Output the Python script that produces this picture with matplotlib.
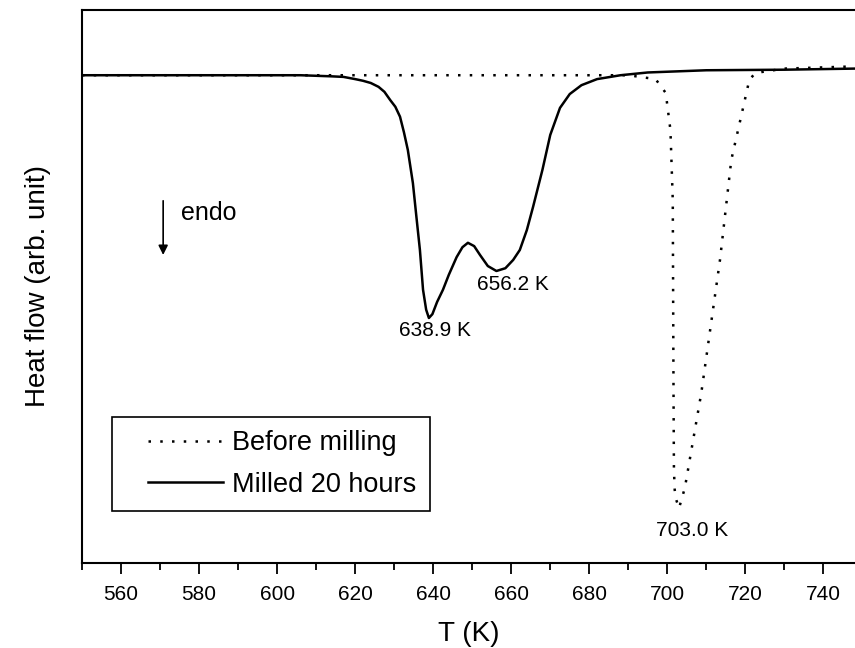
import matplotlib
matplotlib.use("Agg")
import matplotlib.pyplot as plt
from matplotlib.lines import Line2D
from matplotlib.legend_handler import HandlerLine2D

plt.rcParams['font.family'] = ['Liberation Sans', 'DejaVu Sans']

# milled 20 hours (solid)
t_milled = [550, 580, 600, 606, 610, 614, 617, 620, 622, 624, 626, 627.5, 629, 630.3,
            631.5, 632.5, 633.5, 634.8, 635.7, 636.6, 637.4, 638.2, 638.9, 639.8, 641,
            642.5, 644, 646, 647.5, 648.9, 650.5, 652, 654, 656.2, 658.5, 660.5, 662.2,
            664, 665.6, 668, 670, 672.5, 675, 678, 682, 688, 695, 710, 730, 748]
hf_milled = [88.2, 88.2, 88.2, 88.2, 88.1, 88.0, 87.9, 87.5, 87.2, 86.8, 86.1, 85.2, 83.7, 82.5,
             80.7, 77.9, 74.7, 68.7, 62.6, 56.6, 49.4, 45.8, 44.3, 45.0, 47.2,
             49.4, 52.1, 55.3, 57.1, 57.9, 57.3, 55.7, 53.7, 52.8, 53.3, 54.8, 56.6,
             60.2, 64.4, 71.1, 77.4, 82.3, 84.8, 86.4, 87.5, 88.2, 88.7, 89.1, 89.2, 89.4]

# before milling (dotted)
t_before = [550, 620, 690, 697, 699.6, 700.8, 701.4, 701.5, 701.6, 701.7, 701.9, 702.3,
            703.0, 704.5, 708.7, 713.5, 716.4, 719, 721, 722.5, 730, 748]
hf_before = [88.2, 88.2, 88.2, 87.5, 85.0, 78.3, 65.6, 47.0, 29.5, 16.8, 13.2, 11.4,
             9.9, 13.6, 30.7, 54.8, 72.9, 81.0, 87.3, 88.6, 89.4, 89.8]

peak_labels = ["638.9 K", "656.2 K", "703.0 K"]

fig = plt.figure(figsize=(8.55, 6.48), dpi=100)
ax = fig.add_axes([0.0959, 0.1312, 0.9041, 0.8534])

dots = (0, (1, 3.7))
ax.plot(t_before, hf_before, color='black', lw=1.8, linestyle=dots, label='Before milling')
ax.plot(t_milled, hf_milled, color='black', lw=1.8, label='Milled 20 hours')

ax.set_xlim(550, 748.1)
ax.set_ylim(0, 100)
ax.set_yticks([])
ax.set_xticks(range(560, 741, 20))
ax.set_xticks(range(550, 748, 10), minor=True)
ax.tick_params(axis='x', which='major', length=8, width=1.3, direction='out', labelsize=15, pad=8)
ax.tick_params(axis='x', which='minor', length=5, width=1.3, direction='out')
for s in ['left', 'bottom', 'top']:
    ax.spines[s].set_linewidth(1.5)
ax.spines['right'].set_visible(False)

ax.set_xlabel("T (K)", fontsize=20, labelpad=12)
ax.set_ylabel("Heat flow (arb. unit)", fontsize=20, labelpad=22)

ax.text(640.4, 42.1, peak_labels[0], fontsize=15, ha='center', va='center')
ax.text(651.2, 50.3, peak_labels[1], fontsize=15, ha='left', va='center')
ax.text(706.3, 5.8, peak_labels[2], fontsize=15, ha='center', va='center')

ax.annotate("", xy=(570.8, 55.2), xytext=(570.8, 66.0),
            arrowprops=dict(arrowstyle='-|>', color='black', lw=1.2, mutation_scale=14))
ax.text(575.5, 63.3, "endo", fontsize=18, ha='left', va='center')

leg = ax.legend(loc='upper left', bbox_to_anchor=(0.0384, 0.2646), borderaxespad=0,
                fontsize=19.5, frameon=True, fancybox=False, shadow=False,
                borderpad=0.5, handlelength=3.6, handletextpad=0.35, labelspacing=0.58,
                handler_map={Line2D: HandlerLine2D(xpad=0.84)})
leg.get_frame().set_edgecolor('black')
leg.get_frame().set_linewidth(1.2)
leg.get_frame().set_alpha(1)

fig.savefig("out.png", dpi=100)
